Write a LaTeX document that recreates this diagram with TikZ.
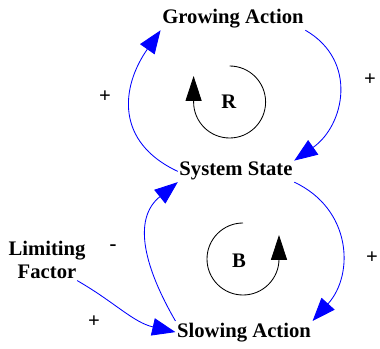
\documentclass[tikz,border=0pt]{standalone}
\usepackage{fontspec}
\setmainfont{Liberation Serif}
\usepackage{tikz}
\usetikzlibrary{arrows.meta, positioning, calc}

\begin{document}
\begin{tikzpicture}[
    var/.style={font=\fontsize{14.7}{16.5}\selectfont\bfseries, inner sep=1pt, align=center},
    sign/.style={font=\fontsize{14.7}{16.5}\selectfont\bfseries, inner sep=0pt},
    looptag/.style={font=\fontsize{14.7}{16.5}\selectfont\bfseries, inner sep=1pt},
    link/.style={draw=blue, line width=0.6pt, -{Triangle[length=0.58cm, width=0.44cm, fill=blue]}},
    loopline/.style={draw=black, line width=0.6pt, -{Triangle[length=0.62cm, width=0.4cm, fill=black]}},
]
\useasboundingbox (0,0) rectangle (9.5,-8.725);

% Variables
\node[var, anchor=base] (ga) at (5.825, -0.6) {Growing Action};
\node[var, anchor=base] (ss) at (5.9, -4.4) {System State};
\node[var, anchor=base] (sa) at (6.1, -8.425) {Slowing Action};
\node[var] (lf) at (1.175, -6.5) {Limiting\\Factor};

% Loop labels
\node[looptag] (r) at (5.72, -2.55) {R};
\node[looptag] (b) at (5.975, -6.525) {B};

% Polarity signs
\node[sign] (s1) at (2.625, -2.425) {+};
\node[sign] (s2) at (9.25, -2.0) {+};
\node[sign] (s3) at (2.825, -6.2) {-};
\node[sign] (s4) at (9.3, -6.45) {+};
\node[sign] (s5) at (2.35, -8.03) {+};

% Causal links
\draw[link] (ss.west) to[out=155, in=235, looseness=1.25] (ga.south west);
\draw[link] (ga.south east) to[out=-30, in=35, looseness=1.2] (ss.north east);
\draw[link] (ss.south east) to[out=-25, in=48, looseness=1.15] (sa.north east);
\draw[link] (sa.north west) to[out=120, in=219, looseness=1.1] (ss.south west);
\draw[link] ([xshift=-0.25cm]lf.south east) to[out=-30, in=167] (sa.west);

% Loop markers
\draw[loopline] ($(r)+(0.02,0.9)$) arc[start angle=90, end angle=-180, radius=0.9] -- ++(0,0.65);
\draw[loopline] ($(b)+(0.1,0.95)$) arc[start angle=90, end angle=360, radius=0.9] -- ++(0,0.6);

\end{tikzpicture}
\end{document}
